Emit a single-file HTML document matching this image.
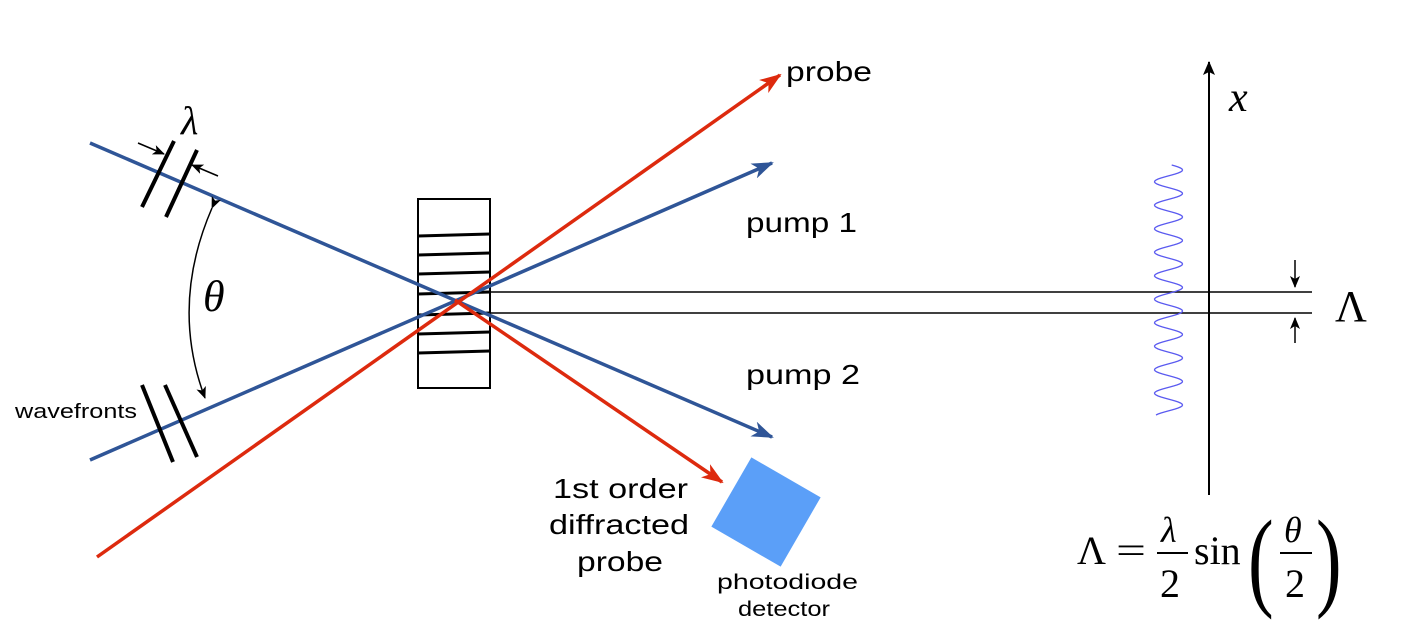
<!DOCTYPE html>
<html><head><meta charset="utf-8"><style>
html,body{margin:0;padding:0;background:#fff}
svg{display:block}
.s{font-family:"Liberation Sans",sans-serif;fill:#000}
.m{font-family:"Liberation Serif",serif;fill:#000}
</style></head><body>
<svg width="1414" height="630" viewBox="0 0 1414 630" xmlns="http://www.w3.org/2000/svg">
<defs>
<marker id="ab" markerWidth="22" markerHeight="16" refX="20" refY="8" orient="auto" markerUnits="userSpaceOnUse" viewBox="0 0 22 16"><path d="M0,0 L22,8 L0,16 L6,8 z" fill="#2f5597"/></marker>
<marker id="ar" markerWidth="22" markerHeight="16" refX="20" refY="8" orient="auto" markerUnits="userSpaceOnUse" viewBox="0 0 22 16"><path d="M0,0 L22,8 L0,16 L6,8 z" fill="#dd2a0e"/></marker>
<marker id="ak" markerWidth="12" markerHeight="10" refX="11" refY="5" orient="auto" markerUnits="userSpaceOnUse" viewBox="0 0 12 10"><path d="M0,0 L12,5 L0,10 L3,5 z" fill="#000"/></marker>
<marker id="ak2" markerWidth="14" markerHeight="12" refX="13" refY="6" orient="auto" markerUnits="userSpaceOnUse" viewBox="0 0 14 12"><path d="M0,0 L14,6 L0,12 L3,6 z" fill="#000"/></marker>
</defs>

<g>
<rect x="418" y="199" width="72" height="189" fill="#fff" stroke="#000" stroke-width="2"/>
<g stroke="#000" stroke-width="3">
<line x1="418" y1="236" x2="490" y2="234"/>
<line x1="418" y1="255" x2="490" y2="253"/>
<line x1="418" y1="274" x2="490" y2="272"/>
<line x1="418" y1="294" x2="490" y2="292"/>
<line x1="418" y1="315" x2="490" y2="313"/>
<line x1="418" y1="334" x2="490" y2="332"/>
<line x1="418" y1="353" x2="490" y2="351"/>
</g>
</g>

<g stroke="#000" stroke-width="1.5">
<line x1="490" y1="292" x2="1312" y2="292"/>
<line x1="490" y1="313" x2="1312" y2="313"/>
</g>

<line x1="90" y1="143" x2="772" y2="437" stroke="#2f5597" stroke-width="3.5" marker-end="url(#ab)"/>
<line x1="90" y1="460" x2="772" y2="163" stroke="#2f5597" stroke-width="3.5" marker-end="url(#ab)"/>
<line x1="97" y1="557" x2="780" y2="75" stroke="#dd2a0e" stroke-width="3.5" marker-end="url(#ar)"/>
<line x1="455" y1="300" x2="722" y2="482" stroke="#dd2a0e" stroke-width="3.5" marker-end="url(#ar)"/>

<g stroke="#000" stroke-width="4">
<line x1="174" y1="141" x2="142" y2="207"/>
<line x1="197" y1="150" x2="166" y2="217"/>
</g>
<line x1="138" y1="143" x2="164" y2="154" stroke="#000" stroke-width="1.5" marker-end="url(#ak)"/>
<line x1="218" y1="176" x2="192" y2="165" stroke="#000" stroke-width="1.5" marker-end="url(#ak)"/>
<g stroke="#000" stroke-width="4">
<line x1="142" y1="385" x2="173" y2="462"/>
<line x1="165" y1="385" x2="197" y2="457"/>
</g>
<path d="M212,208 Q170,305 205,398" fill="none" stroke="#000" stroke-width="1.5" marker-start="url(#ak)" marker-end="url(#ak)"/>

<line x1="1209" y1="495" x2="1209" y2="62" stroke="#000" stroke-width="2" marker-end="url(#ak2)"/>
<path id="wave" fill="none" stroke="#5a5af0" stroke-width="1.3"/>
<line x1="1295" y1="260" x2="1295" y2="287" stroke="#000" stroke-width="1.5" marker-end="url(#ak)"/>
<line x1="1295" y1="343" x2="1295" y2="318" stroke="#000" stroke-width="1.5" marker-end="url(#ak)"/>

<rect x="-40" y="-40" width="80" height="80" fill="#5b9ff8" transform="translate(766,512) rotate(30)"/>

<text x="786" y="81" class="s" font-size="28" textLength="86" lengthAdjust="spacingAndGlyphs">probe</text>
<text x="746" y="232" class="s" font-size="28" textLength="111" lengthAdjust="spacingAndGlyphs">pump 1</text>
<text x="746" y="384" class="s" font-size="28" textLength="114" lengthAdjust="spacingAndGlyphs">pump 2</text>
<g class="s" font-size="28">
<text x="553" y="498" textLength="135" lengthAdjust="spacingAndGlyphs">1st order</text>
<text x="549" y="534" textLength="140" lengthAdjust="spacingAndGlyphs">diffracted</text>
<text x="577" y="571" textLength="86" lengthAdjust="spacingAndGlyphs">probe</text>
</g>
<g class="s" font-size="21">
<text x="717" y="589" textLength="141" lengthAdjust="spacingAndGlyphs">photodiode</text>
<text x="738" y="616" textLength="92" lengthAdjust="spacingAndGlyphs">detector</text>
</g>
<text x="15" y="418" class="s" font-size="20" textLength="122" lengthAdjust="spacingAndGlyphs">wavefronts</text>
<text x="181" y="134" class="m" font-size="40" font-style="italic">λ</text>
<text x="203" y="311" class="m" font-size="44" font-style="italic">θ</text>
<text x="1229" y="111" class="m" font-size="42" font-style="italic">x</text>
<text x="1335" y="321" class="m" font-size="44">Λ</text>

<g class="m">
<text x="1077" y="564" font-size="40">Λ</text>
<text x="1116" y="563" font-size="38" textLength="30" lengthAdjust="spacingAndGlyphs">=</text>
<text x="1161" y="542" font-size="36" font-style="italic">λ</text>
<line x1="1157" y1="553" x2="1188" y2="553" stroke="#000" stroke-width="2"/>
<text x="1160" y="597" font-size="40">2</text>
<text x="1194" y="564" font-size="40">sin</text>
<text x="1248" y="596" font-size="110" transform="scale(0.7,1)" style="transform-box:fill-box">(</text>
<text x="1284" y="542" font-size="36" font-style="italic">θ</text>
<line x1="1280" y1="553" x2="1312" y2="553" stroke="#000" stroke-width="2"/>
<text x="1285" y="597" font-size="40">2</text>
<text x="1316" y="596" font-size="110" transform="scale(0.7,1)" style="transform-box:fill-box">)</text>
</g>
</svg>
<script>
const waveYStart=[165];
const waveYEnd=[415];
const wavePeriod=[23.5];
(function(){
  const cx=1168.5, amp=14;
  let d='';
  for(let y=waveYStart[0]; y<=waveYEnd[0]; y+=1){
    const x=cx+amp*Math.cos((y-170)/wavePeriod[0]*2*Math.PI);
    d+=(d?'L':'M')+x.toFixed(1)+','+y;
  }
  document.getElementById('wave').setAttribute('d',d);
})();
</script>
</body></html>
